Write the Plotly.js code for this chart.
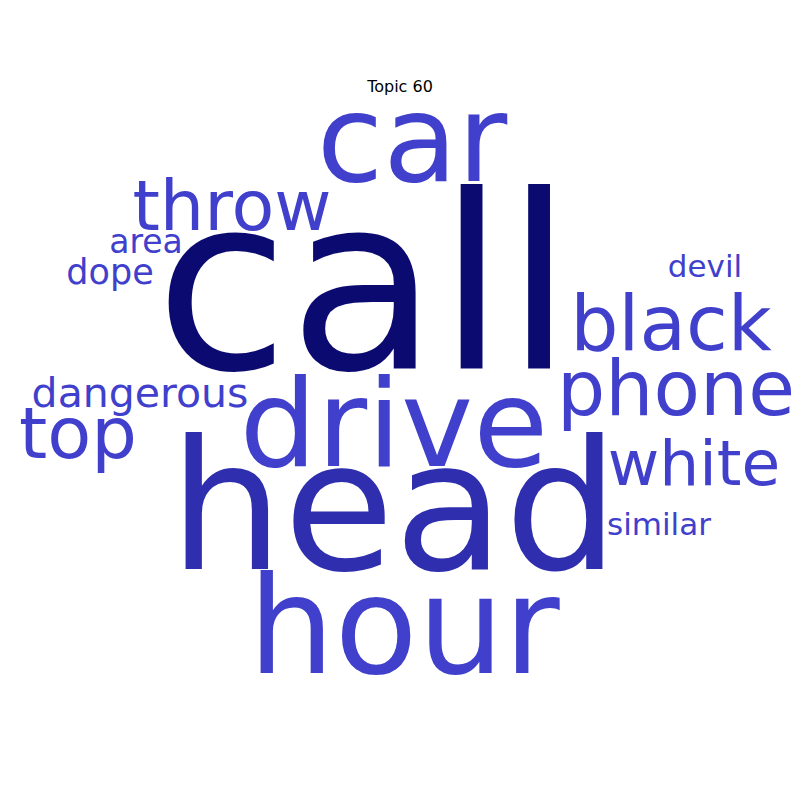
<html>
	<head>
		<meta charset="utf-8" />
		<title>Topic 60</title>
		<script src="https://cdn.plot.ly/plotly-3.0.1.min.js"></script>
	</head>
	<body style="margin:0">

	  <div id="myDiv"></div>

		<script>

// words of the topic and their weight (drawn as font size)
const words   = ['call', 'head', 'hour', 'drive', 'car', 'throw', 'black', 'phone', 'white', 'top', 'dangerous', 'area', 'dope', 'devil', 'similar'];
const weights = [243, 180, 136, 122, 121, 70, 76, 76, 63, 72, 41, 33, 35, 31, 31];

// word cloud layout (centre x, baseline y) on a 800 x 800 canvas
const cloudX = [364, 394, 404, 394, 412, 232, 671, 676, 694, 78, 140, 146, 110, 705, 659];
const cloudY = [369, 569, 673, 466, 181, 230, 350, 415, 485, 458, 407, 253, 284, 277, 535];

const title = 'Topic 60';

// darker blue for the heaviest words
function wordColor(w) {
	if (w > 200) return '#0a0a70';
	if (w > 150) return '#2e2eae';
	return '#4040cc';
}

var ty = [];
for (var i = 0; i < cloudY.length; i++) {
	// plotly puts the baseline 0.25em below the point for middle text
	ty.push(cloudY[i] - 0.25 * weights[i]);
}

var trace1 = {
  x: cloudX,
  y: ty,
  text: words,
  mode: 'text',
  type: 'scatter',
  textposition: 'middle center',
  textfont: {
    family: 'DejaVu Sans',
    size: weights,
    color: weights.map(wordColor)
  },
  hoverinfo: 'skip'
};

var layout = {
  width: 800,
  height: 800,
  margin: { l: 0, r: 0, t: 0, b: 0 },
  paper_bgcolor: 'white',
  plot_bgcolor: 'white',
  showlegend: false,
  title: {
    text: title,
    font: { family: 'DejaVu Sans', size: 16, color: 'black' },
    x: 0.5,
    xanchor: 'center',
    y: 1 - 86 / 800,
    yanchor: 'middle'
  },
  xaxis: { range: [0, 800], visible: false, fixedrange: true },
  yaxis: { range: [800, 0], visible: false, fixedrange: true }
};

Plotly.newPlot('myDiv', [trace1], layout, { staticPlot: true });

		</script>

	</body>
</html>
